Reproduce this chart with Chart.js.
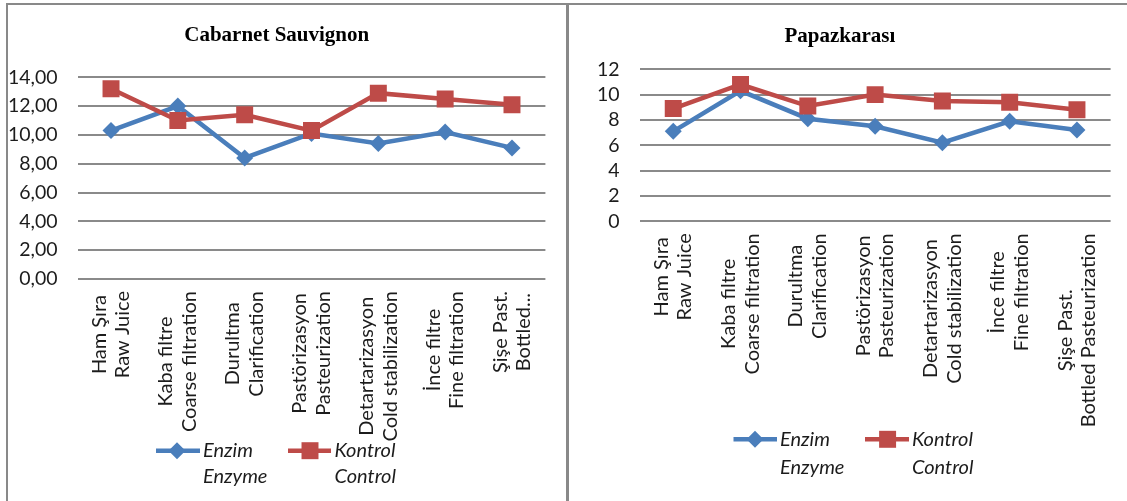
<!DOCTYPE html>
<html>
<head>
<meta charset="utf-8">
<script src="https://cdn.jsdelivr.net/npm/chart.js@4.4.1/dist/chart.umd.min.js"></script>
<style>
  html, body { margin: 0; padding: 0; background: #fff; width: 1127px; height: 501px; overflow: hidden; }
  .rule { position: absolute; background: #898989; }
  canvas { position: absolute; }
</style>
</head>
<body>
<div class="rule" style="left:6px;top:3px;width:1121px;height:2px"></div>
<div class="rule" style="left:6px;top:3px;width:2px;height:498px"></div>
<div class="rule" style="left:566px;top:3px;width:3px;height:498px"></div>
<canvas id="cab" width="558" height="496" style="left:8px;top:5px"></canvas>
<canvas id="pap" width="558" height="496" style="left:569px;top:5px"></canvas>
<script>
// Process stages (Turkish / English), one entry per category
const stagesCab = [
  ['Ham Şıra', 'Raw Juice'],
  ['Kaba filtre', 'Coarse filtration'],
  ['Durultma', 'Clarification'],
  ['Pastörizasyon', 'Pasteurization'],
  ['Detartarizasyon', 'Cold stabilization'],
  ['İnce filtre', 'Fine filtration'],
  ['Şişe Past.', 'Bottled...']
];
const stagesPap = [
  ['Ham Şıra', 'Raw Juice'],
  ['Kaba filtre', 'Coarse filtration'],
  ['Durultma', 'Clarification'],
  ['Pastörizasyon', 'Pasteurization'],
  ['Detartarizasyon', 'Cold stabilization'],
  ['İnce filtre', 'Fine filtration'],
  ['Şişe Past.', 'Bottled Pasteurization']
];

// Series values
const cabEnzim   = [10.3, 12.0, 8.4, 10.1, 9.4, 10.2, 9.1];
const cabKontrol = [13.2, 11.0, 11.4, 10.3, 12.9, 12.5, 12.1];
const papEnzim   = [7.1, 10.3, 8.1, 7.5, 6.2, 7.9, 7.2];
const papKontrol = [8.9, 10.8, 9.1, 10.0, 9.5, 9.4, 8.8];

// Series names (two lines each)
const seriesNames = [['Enzim', 'Enzyme'], ['Kontrol', 'Control']];

// Value-axis tick labels
const cabTicks = ['0,00', '2,00', '4,00', '6,00', '8,00', '10,00', '12,00', '14,00'];
const papTicks = ['0', '2', '4', '6', '8', '10', '12'];

const BLUE = '#4a7ebb';
const RED = '#be4b48';
const SANS = 'Lato, "DejaVu Sans", sans-serif';
const TEXT = '#1c1c1c';

// Category labels: rotated, lines centred within a block that hangs below the axis
const stageLabels = {
  id: 'stageLabels',
  afterDraw(chart, args, opts) {
    const ctx = chart.ctx;
    const xs = chart.scales.x;
    const top = chart.chartArea.bottom + opts.gap;
    ctx.save();
    ctx.font = opts.size + 'px ' + SANS;
    ctx.fillStyle = TEXT;
    ctx.textAlign = 'center';
    ctx.textBaseline = 'middle';
    opts.labels.forEach((lines, i) => {
      const x = xs.getPixelForTick(i);
      const w = Math.max(...lines.map(l => ctx.measureText(l).width));
      ctx.save();
      ctx.translate(x, top);
      ctx.rotate(-Math.PI / 2);
      lines.forEach((ln, k) => {
        const v = (k - (lines.length - 1) / 2) * opts.lineHeight;
        ctx.fillText(ln, -w / 2, v);
      });
      ctx.restore();
    });
    ctx.restore();
  }
};

// Series key drawn under the category labels
const seriesKey = {
  id: 'seriesKey',
  afterDraw(chart, args, opts) {
    const ctx = chart.ctx;
    chart.data.datasets.forEach((ds, i) => {
      const it = opts.items[i];
      ctx.save();
      ctx.strokeStyle = ds.borderColor;
      ctx.lineWidth = ds.borderWidth;
      ctx.beginPath();
      ctx.moveTo(it.x0, opts.y);
      ctx.lineTo(it.x1, opts.y);
      ctx.stroke();
      ctx.fillStyle = ds.pointBackgroundColor;
      Chart.helpers.drawPoint(ctx, { pointStyle: ds.pointStyle, radius: ds.pointRadius, rotation: 0, borderWidth: 0 }, it.mx, opts.y);
      ctx.font = 'italic ' + opts.size + 'px ' + SANS;
      ctx.fillStyle = TEXT;
      ctx.textAlign = 'left';
      ctx.textBaseline = 'middle';
      seriesNames[i].forEach((ln, k) => ctx.fillText(ln, it.tx, opts.y + k * opts.lineHeight));
      ctx.restore();
    });
  }
};

function makeChart(id, cfg) {
  const canvas = document.getElementById(id);
  const W = canvas.width, H = canvas.height;
  return new Chart(canvas, {
    type: 'line',
    data: {
      labels: cfg.stages.map(s => s.join(' ')),
      datasets: [
        {
          label: seriesNames[0].join(' '), data: cfg.enzim, order: 1,
          borderColor: BLUE, backgroundColor: BLUE, borderWidth: 4.5,
          pointStyle: 'rectRot', pointRadius: 8.5, pointHoverRadius: 8.5,
          pointBackgroundColor: BLUE, pointBorderColor: BLUE, pointBorderWidth: 0,
          tension: 0
        },
        {
          label: seriesNames[1].join(' '), data: cfg.kontrol, order: 0,
          borderColor: RED, backgroundColor: RED, borderWidth: 4.5,
          pointStyle: 'rect', pointRadius: 12, pointHoverRadius: 12,
          pointBackgroundColor: RED, pointBorderColor: RED, pointBorderWidth: 0,
          tension: 0
        }
      ]
    },
    options: {
      responsive: false,
      animation: false,
      devicePixelRatio: 1,
      events: [],
      layout: { padding: { left: 0, right: W - cfg.plot.right, top: 0, bottom: 0 } },
      scales: {
        x: {
          type: 'category',
          offset: true,
          grid: { display: false },
          border: { display: false },
          ticks: { display: false },
          afterFit(scale) { scale.height = H - cfg.plot.bottom; }
        },
        y: {
          min: 0, max: cfg.max,
          grid: { color: '#8a8a8a', lineWidth: 2, drawTicks: false },
          border: { display: false },
          ticks: {
            stepSize: 2, padding: 20, color: TEXT, autoSkip: false,
            font: { family: SANS, size: 19.5 },
            callback: (v, i) => cfg.ticks[i]
          },
          afterFit(scale) { scale.width = cfg.plot.left; }
        }
      },
      plugins: {
        legend: { display: false },
        tooltip: { enabled: false },
        title: {
          display: true, text: cfg.title, color: '#000',
          font: { family: '"Liberation Serif", "Times New Roman", serif', size: 21, weight: 'bold', lineHeight: 1.2 },
          padding: { top: cfg.titleTop, bottom: cfg.plot.top - cfg.titleTop - 25.2 }
        },
        stageLabels: { labels: cfg.stages, gap: 12, size: 20, lineHeight: 23.6 },
        seriesKey: cfg.key
      }
    },
    plugins: [stageLabels, seriesKey]
  });
}

makeChart('cab', {
  title: 'Cabarnet Sauvignon',
  stages: stagesCab, enzim: cabEnzim, kontrol: cabKontrol,
  max: 14, ticks: cabTicks,
  plot: { left: 69.6, right: 537.4, top: 72.3, bottom: 274 },
  titleTop: 17.5,
  key: { y: 445.7, size: 20, lineHeight: 26,
         items: [ { x0: 148, x1: 192, mx: 169, tx: 195 }, { x0: 280, x1: 323, mx: 302, tx: 326.5 } ] }
});

makeChart('pap', {
  title: 'Papazkarası',
  stages: stagesPap, enzim: papEnzim, kontrol: papKontrol,
  max: 12, ticks: papTicks,
  plot: { left: 70.6, right: 541.6, top: 64.3, bottom: 216.3 },
  titleTop: 18.5,
  key: { y: 434.3, size: 20, lineHeight: 28.5,
         items: [ { x0: 164.5, x1: 208, mx: 186, tx: 211 }, { x0: 296, x1: 340, mx: 318.6, tx: 343 } ] }
});
</script>
</body>
</html>
